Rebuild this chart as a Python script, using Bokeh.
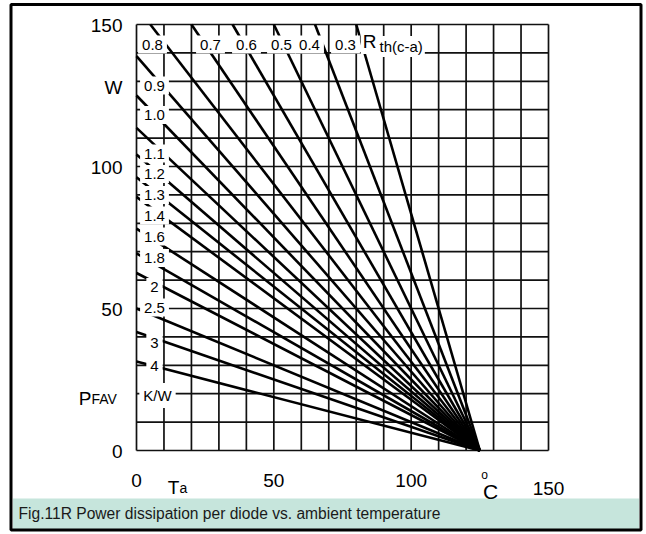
from bokeh.plotting import figure
from bokeh.models import Label, Range1d
from bokeh.embed import file_html
from bokeh.resources import INLINE

# ---------------- data ----------------
rth_values = [0.3, 0.4, 0.5, 0.6, 0.7, 0.8, 0.9, 1.0, 1.1, 1.2, 1.3, 1.4, 1.6, 1.8, 2, 2.5, 3, 4]
# power at Ta = 0 degC (lines above 150 W leave through the top of the chart)
p_at_ta0 = [416.7, 312.5, 250.0, 208.3, 178.6, 156.3, 138.9, 125.0, 113.6, 104.2,
            96.2, 89.3, 78.1, 69.4, 62.5, 50.0, 41.7, 31.3]
# all lines reach 0 W at the same ambient temperature
ta_at_p0 = [125, 125, 125, 125, 125, 125, 125, 125, 125, 125, 125, 125, 125, 125, 125, 125, 125, 125]

grid_ta = [0, 10, 20, 30, 40, 50, 60, 70, 80, 90, 100, 110, 120, 130, 140, 150]
grid_p = [0, 10, 20, 30, 40, 50, 60, 70, 80, 90, 100, 110, 120, 130, 140, 150]
x_tick_values = [0, 50, 100, 150]
y_tick_values = [0, 50, 100, 150]

top_label_texts = ["0.8", "0.7", "0.6", "0.5", "0.4", "0.3"]
left_label_texts = ["0.9", "1.0", "1.1", "1.2", "1.3", "1.4", "1.6", "1.8", "2", "2.5", "3", "4"]
caption = "Fig.11R Power dissipation per diode vs. ambient temperature"

# ---------------- layout ----------------
W, H = 646, 534
FL, FR, FT, FB = 136, 548, 24, 450   # chart area in pixels
FONT = "Liberation Sans"

top_label_px = [152, 210, 246, 281, 309, 345]
top_label_py = 44
left_label_px = 154
left_label_py = [85, 114.5, 153, 173.5, 194.5, 215, 236, 257.5, 286.5, 307, 342, 365]

X_MIN, X_MAX = min(grid_ta), max(grid_ta)
Y_MIN, Y_MAX = min(grid_p), max(grid_p)


def sx(px):
    return X_MIN + (px - FL) * (X_MAX - X_MIN) / (FR - FL)


def sy(py):
    return Y_MIN + (FB - py) * (Y_MAX - Y_MIN) / (FB - FT)


p = figure(width=W, height=H,
           x_range=Range1d(sx(0), sx(W)), y_range=Range1d(sy(H), sy(0)),
           x_axis_type=None, y_axis_type=None, toolbar_location=None,
           output_backend="svg", title=None,
           min_border_left=0, min_border_right=0, min_border_top=0, min_border_bottom=0)
p.background_fill_color = "white"
p.border_fill_color = "white"
p.outline_line_color = None

# caption band
p.quad(left=[sx(12.5)], right=[sx(638.5)], top=[sy(498)], bottom=[sy(528.5)],
       fill_color="#c6e5dc", line_color=None)

# grid of the chart
n = len(grid_ta)
p.segment(x0=grid_ta, y0=[Y_MIN] * n, x1=grid_ta, y1=[Y_MAX] * n,
          line_color="#111111", line_width=1.7)
m = len(grid_p)
p.segment(x0=[X_MIN] * m, y0=grid_p, x1=[X_MAX] * m, y1=grid_p,
          line_color="#111111", line_width=1.7)

# derating lines, clipped at the top of the chart
xs, ys = [], []
for p0, t0 in zip(p_at_ta0, ta_at_p0):
    if p0 > Y_MAX:
        xs.append([t0 * (1 - Y_MAX / p0), t0])
        ys.append([Y_MAX, 0])
    else:
        xs.append([0, t0])
        ys.append([p0, 0])
p.multi_line(xs, ys, line_color="black", line_width=2.6)

# outer frame
p.quad(left=[sx(10.5)], right=[sx(640.5)], top=[sy(4)], bottom=[sy(529.5)],
       fill_color=None, line_color="black", line_width=3)


def add_text(text, px, py, size, align="center", baseline="middle", bg=None, pad=0, color="black"):
    lab = Label(x=sx(px), y=sy(py), text=text, text_font=FONT, text_font_size=f"{size}px",
                text_align=align, text_baseline=baseline, text_color=color)
    if bg is not None:
        lab.background_fill_color = bg
        lab.background_fill_alpha = 1.0
        try:
            lab.padding = pad
        except Exception:
            pass
    p.add_layout(lab)


# Rth labels on the lines
for t, px in zip(top_label_texts, top_label_px):
    add_text(t, px, top_label_py, 15, bg="white", pad=4)
for t, py in zip(left_label_texts, left_label_py):
    add_text(t, left_label_px, py, 15, bg="white", pad=4)
add_text("R", 369, 41, 19, bg="white", pad=2)
add_text("th(c-a)", 377, 46, 15, align="left", bg="white", pad=2)
add_text("K/W", 157, 395, 15, bg="white", pad=4)

# y axis labels
for v in y_tick_values:
    add_text(str(v), 122, FB - (v - Y_MIN) * (FB - FT) / (Y_MAX - Y_MIN) + 1, 19, align="right")
add_text("W", 122, 87, 19, align="right")
add_text("P", 91, 398, 19, align="right", baseline="alphabetic")
add_text("FAV", 91, 398, 14, align="left", baseline="alphabetic")

# x axis labels
for v in x_tick_values:
    add_text(str(v), FL + (v - X_MIN) * (FR - FL) / (X_MAX - X_MIN), 488 if v == X_MAX else 480, 19)
add_text("T", 173, 487, 19, baseline="alphabetic")
add_text("a", 183, 487, 14, baseline="alphabetic")
add_text("o", 484, 474, 12)
add_text("C", 490, 491, 21)

# caption
add_text(caption, 18, 513, 15.6, align="left", color="#1a1a1a")

open("out.html", "w").write(file_html(p, INLINE))
